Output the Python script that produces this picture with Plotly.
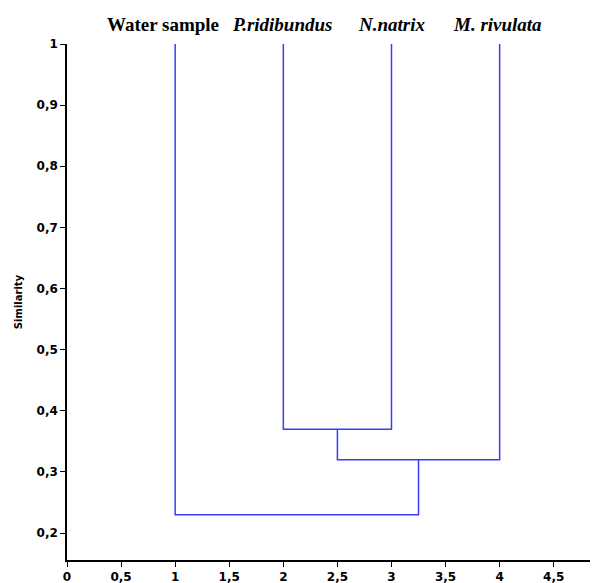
import plotly.graph_objects as go

# Leaves (in display order) and their x positions
leaf_names = ["Water sample", "P.ridibundus", "N.natrix", "M. rivulata"]
leaf_italic = [False, True, True, True]
leaf_x = [1, 2, 3, 4]
leaf_top = 1.0

# Linkage (scipy-style indices: 0..3 leaves, 4.. new clusters)
merge_left = [1, 4, 0]
merge_right = [2, 3, 5]
merge_height = [0.37, 0.32, 0.23]

x_ticks = [0, 0.5, 1, 1.5, 2, 2.5, 3, 3.5, 4, 4.5]
y_ticks = [0.2, 0.3, 0.4, 0.5, 0.6, 0.7, 0.8, 0.9, 1.0]

def fmt(v):
    s = ("%g" % v)
    return s.replace(".", ",")

# Build dendrogram segments
pos = {i: leaf_x[i] for i in range(len(leaf_x))}
hgt = {i: leaf_top for i in range(len(leaf_x))}
xs, ys = [], []
n = len(leaf_x)
for k, (a, b, h) in enumerate(zip(merge_left, merge_right, merge_height)):
    xa, xb = pos[a], pos[b]
    xs += [xa, xa, xb, xb, None]
    ys += [hgt[a], h, h, hgt[b], None]
    pos[n + k] = (xa + xb) / 2
    hgt[n + k] = h

fig = go.Figure()
fig.add_trace(go.Scatter(x=xs, y=ys, mode="lines",
                         line=dict(color="#3b3bff", width=1.5),
                         hoverinfo="skip", showlegend=False))

shifts = [-12, -1, 0, -2]
for name, it, x, sh in zip(leaf_names, leaf_italic, leaf_x, shifts):
    txt = f"<b><i>{name}</i></b>" if it else f"<b>{name}</b>"
    fig.add_annotation(x=x, y=1, xref="x", yref="paper", text=txt,
                       showarrow=False, yanchor="bottom", yshift=7, xshift=sh,
                       font=dict(family="Liberation Serif", size=19, color="black"))

fig.update_layout(
    width=590, height=575,
    margin=dict(l=59, r=1, t=36, b=23),
    paper_bgcolor="white", plot_bgcolor="white",
    font=dict(family="DejaVu Sans", color="black"),
)
fig.update_xaxes(range=[0, 4.9], tickvals=x_ticks, ticktext=[fmt(v) for v in x_ticks],
                 showgrid=False, zeroline=False, showline=True, linecolor="black",
                 linewidth=1.5, ticks="outside", ticklen=5, tickwidth=1.2, tickcolor="black",
                 tickfont=dict(size=12, weight="bold", family="DejaVu Sans"),
                 automargin=False)
fig.update_yaxes(range=[0.156, 1.0], tickvals=y_ticks, ticktext=[fmt(v) for v in y_ticks],
                 showgrid=False, zeroline=False, showline=True, linecolor="black",
                 linewidth=1.5, ticks="outside", ticklen=5, tickwidth=1.2, tickcolor="black",
                 tickfont=dict(size=12, weight="bold", family="DejaVu Sans"),
                 title=dict(text="<b>Similarity</b>", font=dict(size=10, family="DejaVu Sans"), standoff=12),
                 automargin=False)

fig.write_html("out.html")
